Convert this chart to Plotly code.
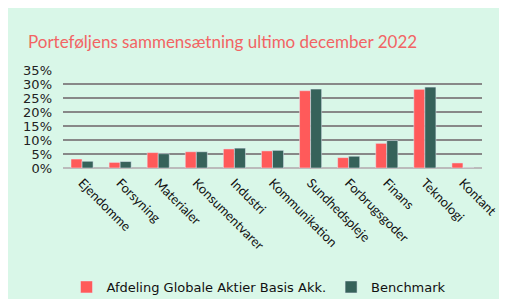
import plotly.graph_objects as go

categories = ["Ejendomme", "Forsyning", "Materialer", "Konsumentvarer", "Industri",
              "Kommunikation", "Sundhedspleje", "Forbrugsgoder", "Finans", "Teknologi", "Kontant"]
fund_values = [3.2, 2.0, 5.5, 5.8, 6.8, 6.1, 27.6, 3.7, 8.8, 28.1, 1.8]
bench_values = [2.4, 2.3, 5.1, 5.8, 7.1, 6.3, 28.2, 4.2, 9.8, 28.9, 0.0]
tick_vals = [0, 5, 10, 15, 20, 25, 30, 35]
tick_text = ["0%", "5%", "10%", "15%", "20%", "25%", "30%", "35%"]
series_names = ["Afdeling Globale Aktier Basis Akk.", "Benchmark"]
title_text = "Porteføljens sammensætning ultimo december 2022"

fig = go.Figure()
fig.add_trace(go.Bar(x=categories, y=fund_values, name=series_names[0], marker_color="#FF5A5A"))
fig.add_trace(go.Bar(x=categories, y=bench_values, name=series_names[1], marker_color="#36625A"))

OFF = 8  # page body margin
W, H = 507 - 2 * OFF, 307 - 2 * OFF
L, R, T, B = 63 - OFF, 482 - OFF, 70 - OFF, 168 - OFF
pw, ph = R - L, B - T

def px(x):
    return (x - OFF - L) / pw

def py(y):
    return (B - (y - OFF)) / ph

fig.add_shape(type="rect", xref="paper", yref="paper",
              x0=px(8), x1=px(507 - OFF), y0=py(307 - OFF), y1=py(8),
              fillcolor="#d9f7e8", line_width=0, layer="below")

fig.update_layout(
    width=W, height=H,
    margin=dict(l=L, r=W - R, t=T, b=H - B, pad=0, autoexpand=False),
    paper_bgcolor="white", plot_bgcolor="rgba(0,0,0,0)",
    barmode="group", bargap=0.42, bargroupgap=0,
    title=dict(text=title_text, x=(28 - OFF) / W, xref="container", xanchor="left",
               y=1 - (42 - OFF) / H, yref="container", yanchor="middle",
               font=dict(family="Lato", size=17, color="#F26464")),
    font=dict(family="DejaVu Sans", size=12, color="#222222"),
    xaxis=dict(tickangle=45, showgrid=False, showline=False, ticks="", automargin=False,
               ticklabelstandoff=4,
               tickfont=dict(family="Lato", size=13, color="#111111")),
    yaxis=dict(range=[0, 35], tickvals=tick_vals, ticktext=tick_text, automargin=False,
               showgrid=True, gridcolor="#888888", gridwidth=2,
               zeroline=True, zerolinecolor="#bbbbbb", zerolinewidth=2,
               tickfont=dict(family="DejaVu Sans", size=13, color="#222222"),
               ticklabelstandoff=10),
    legend=dict(orientation="h", x=px(259), xanchor="center", y=1 - (287 - OFF) / H,
                yref="container", yanchor="middle",
                font=dict(family="DejaVu Sans", size=13, color="#111111"),
                bgcolor="rgba(0,0,0,0)"),
    showlegend=True,
)

fig.write_html("out.html")
